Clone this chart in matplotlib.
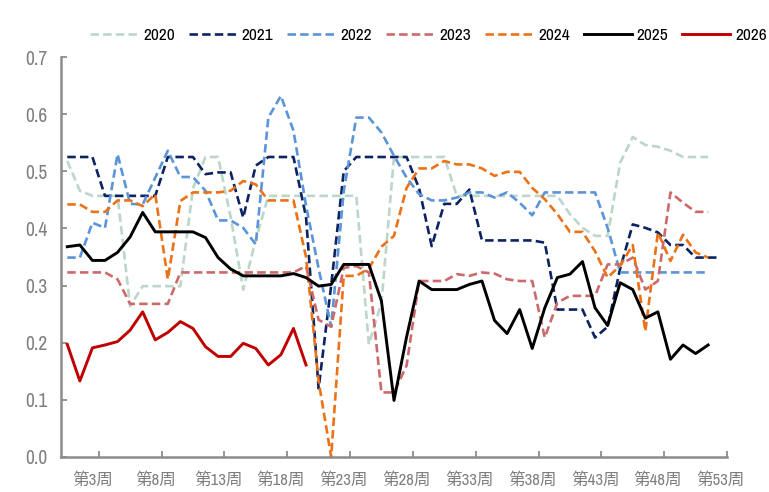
import numpy as np
import matplotlib
matplotlib.use("Agg")
import matplotlib.pyplot as plt
from matplotlib import font_manager as fm

# weekly values, one list per year (nan = no data that week)
nan = np.nan
weeks = np.arange(1, 54)
tick_weeks = [3, 8, 13, 18, 23, 28, 33, 38, 43, 48, 53]
tick_labels = [f"第{w}周" for w in tick_weeks]
years = ["2020", "2021", "2022", "2023", "2024", "2025", "2026"]

v2020 = [0.518, 0.466, 0.457, 0.457, 0.457, 0.264, 0.299, 0.299, 0.299, 0.299,
         0.47, 0.525, 0.525, 0.42, 0.293, 0.38, 0.457, 0.457, 0.457, 0.457,
         0.457, 0.457, 0.457, 0.457, 0.197, 0.27, 0.525, 0.525, 0.525, 0.525,
         0.525, 0.457, 0.457, 0.457, 0.457, 0.457, 0.457, 0.457, 0.457, 0.457,
         0.425, 0.401, 0.387, 0.387, 0.515, 0.560, 0.546, 0.543, 0.536, 0.525,
         0.525, 0.525, nan]
v2021 = [0.525, 0.525, 0.525, 0.457, 0.457, 0.457, 0.457, 0.457, 0.525, 0.525,
         0.525, 0.495, 0.498, 0.498, 0.419, 0.510, 0.525, 0.525, 0.525, 0.42,
         0.12, 0.30, 0.50, 0.525, 0.525, 0.525, 0.525, 0.525, 0.47, 0.369,
         0.443, 0.443, 0.468, 0.379, 0.379, 0.379, 0.379, 0.379, 0.375, 0.258,
         0.258, 0.258, 0.209, 0.228, 0.33, 0.407, 0.401, 0.393, 0.371, 0.371,
         0.349, 0.349, 0.349]
v2022 = [0.349, 0.349, 0.410, 0.401, 0.530, 0.443, 0.442, 0.489, 0.536, 0.490,
         0.490, 0.466, 0.414, 0.414, 0.401, 0.372, 0.594, 0.632, 0.571, 0.44,
         0.33, 0.228, 0.465, 0.594, 0.594, 0.568, 0.527, 0.489, 0.460, 0.449,
         0.449, 0.454, 0.463, 0.463, 0.454, 0.463, 0.445, 0.423, 0.463, 0.463,
         0.463, 0.463, 0.463, 0.401, 0.323, 0.323, 0.323, 0.323, 0.323, 0.323,
         0.323, 0.323, nan]
v2023 = [0.323, 0.323, 0.323, 0.323, 0.311, 0.268, 0.268, 0.268, 0.268, 0.323,
         0.323, 0.323, 0.323, 0.323, 0.323, 0.323, 0.323, 0.323, 0.323, 0.334,
         0.24, 0.228, 0.331, 0.334, 0.323, 0.113, 0.113, 0.16, 0.308, 0.308,
         0.308, 0.320, 0.317, 0.323, 0.321, 0.311, 0.308, 0.308, 0.209, 0.270,
         0.282, 0.282, 0.282, 0.337, 0.337, 0.349, 0.293, 0.308, 0.463, 0.445,
         0.429, 0.429, nan]
v2024 = [0.442, 0.442, 0.429, 0.429, 0.449, 0.449, 0.439, 0.460, 0.311, 0.448,
         0.463, 0.463, 0.463, 0.466, 0.483, 0.477, 0.449, 0.449, 0.449, 0.35,
         0.133, 0.0, 0.317, 0.317, 0.330, 0.368, 0.387, 0.471, 0.505, 0.505,
         0.518, 0.512, 0.512, 0.505, 0.492, 0.499, 0.499, 0.471, 0.451, 0.425,
         0.394, 0.394, 0.360, 0.314, 0.335, 0.371, 0.220, 0.393, 0.343, 0.389,
         0.358, 0.349, nan]
v2025 = [0.368, 0.371, 0.344, 0.344, 0.358, 0.385, 0.428, 0.394, 0.394, 0.394,
         0.394, 0.384, 0.349, 0.329, 0.317, 0.317, 0.317, 0.317, 0.321, 0.314,
         0.299, 0.302, 0.337, 0.337, 0.337, 0.273, 0.099, 0.21, 0.308, 0.293,
         0.293, 0.293, 0.302, 0.308, 0.239, 0.216, 0.258, 0.190, 0.261, 0.314,
         0.320, 0.342, 0.261, 0.230, 0.305, 0.293, 0.243, 0.254, 0.171, 0.196,
         0.181, 0.196, nan]
v2026 = [0.197, 0.133, 0.191, 0.196, 0.202, 0.222, 0.254, 0.205, 0.218, 0.237,
         0.225, 0.193, 0.176, 0.176, 0.199, 0.190, 0.161, 0.179, 0.225, 0.161]

series = [v2020, v2021, v2022, v2023, v2024, v2025, v2026]
colors = ["#bcd6c8", "#0b2461", "#5b94d8", "#cc6a6b", "#eb7217", "#000000", "#c00000"]
dashed = [True, True, True, True, True, False, False]

# fonts: prefer a narrow latin face if one exists, CJK fallback for 第/周
installed = sorted({f.name for f in fm.fontManager.ttflist})
narrow = [n for n in installed if "Narrow" in n or "Condensed" in n]
if narrow:
    latin = narrow[0]
elif "Liberation Sans" in installed:
    latin = "Liberation Sans"
else:
    latin = "DejaVu Sans"
plt.rcParams["font.family"] = [latin, "Noto Sans CJK SC"]

fig = plt.figure(figsize=(7.69, 4.92), dpi=100)
ax = fig.add_axes([61 / 769, 1 - 457 / 492, 666 / 769, 400 / 492])

for name, vals, c, d in zip(years, series, colors, dashed):
    y = np.array(vals, dtype=float)
    x = weeks[:len(y)]
    if d:
        ax.plot(x, y, color=c, lw=1.9, dashes=(3.2, 1.6), label=name)
    else:
        ax.plot(x, y, color=c, lw=2.1, label=name)

ax.set_xlim(0.5, 53.5)
ax.set_ylim(0, 0.7)
ax.set_yticks(np.arange(0, 0.71, 0.1))
ax.set_yticklabels([f"{v:.1f}" for v in np.arange(0, 0.71, 0.1)])
ax.set_xticks(tick_weeks)
ax.set_xticklabels(tick_labels)
ax.set_xticks([w + 0.5 for w in tick_weeks], minor=True)

grey = "#8c8c8c"
ax.tick_params(axis="x", which="major", length=0, pad=11, labelsize=12, labelcolor="#7f7f7f")
ax.tick_params(axis="x", which="minor", direction="in", length=4, width=1.3, color=grey)
ax.tick_params(axis="y", direction="in", length=4, width=1.3, color=grey, pad=10,
               labelsize=14, labelcolor="#7f7f7f")
for s in ["top", "right"]:
    ax.spines[s].set_visible(False)
for s in ["left", "bottom"]:
    ax.spines[s].set_color(grey)
    ax.spines[s].set_linewidth(1.8)

fig.legend(loc="center right", bbox_to_anchor=(1.0, 1 - 35 / 492), ncol=7,
           frameon=False, fontsize=12.5, handlelength=2.76, handletextpad=0.3,
           columnspacing=0.8, borderaxespad=0, borderpad=0.1)

fig.savefig("out.png", dpi=100)
